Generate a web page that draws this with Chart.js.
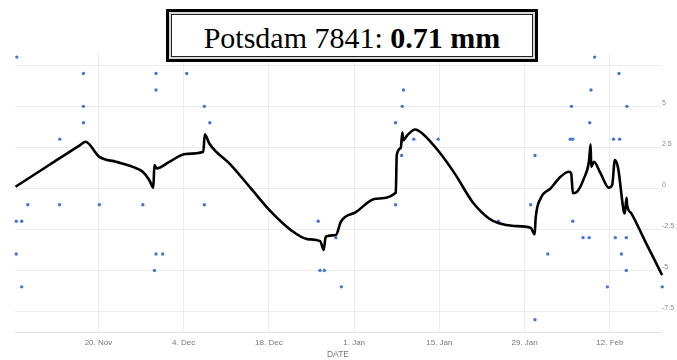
<!DOCTYPE html>
<html>
<head>
<meta charset="utf-8">
<script src="https://cdn.jsdelivr.net/npm/chart.js@4"></script>
<style>
  html, body { margin: 0; padding: 0; background: #fff; }
  #wrap { position: relative; width: 677px; height: 360px; }
  #title-box {
    position: absolute; left: 166px; top: 9px; width: 372px; height: 53px;
    box-sizing: border-box; border: 3px solid #000; padding: 2px; background: #d8d8d8;
  }
  #title-inner {
    box-sizing: border-box; width: 100%; height: 100%;
    border: 1.5px solid #222; background: #fff;
    font-family: "Liberation Serif", "Times New Roman", serif; font-size: 30px;
    line-height: 30px; text-align: center; padding-top: 8px; color: #000;
  }
</style>
</head>
<body>
<div id="wrap">
  <canvas id="chart" width="677" height="360"></canvas>
  <div id="title-box"><div id="title-inner">Potsdam 7841: <b>0.71 mm</b></div></div>
</div>
<script>
// Days counted from 20 Nov
const tickDays = [0, 14, 28, 42, 56, 70, 84];
const tickLabels = ['20. Nov', '4. Dec', '18. Dec', '1. Jan', '15. Jan', '29. Jan', '12. Feb'];
const yTicks = [-7.5, -5, -2.5, 0, 2.5, 5, 7.5];

// Smoothed black curve
const lineDays = [-13.62, -7.9, -3.0, -2.13, 0.16, 2.9, 5.63, 7.27, 8.37, 9.02, 9.19, 9.57, 11.65, 14.39, 17.23, 17.47, 18.21,
  21.77, 25.05, 28.33, 31.62, 34.34, 36.42, 37.0, 37.33, 39.0, 39.82, 42.28, 45.56, 48.84, 49.0, 49.66, 49.92, 50.06,
  50.73, 52.01, 53.2, 55.95, 58.69, 61.41, 64.15, 65.79, 68.25, 70.99, 71.65, 71.81, 72.63, 74.27, 75.91, 77.28, 77.65,
  77.93, 78.64, 79.74, 80.56, 80.84, 80.94, 81.38, 82.48, 83.84, 84.38, 84.82, 85.36, 86.29, 86.46, 86.74, 86.84, 87.5,
  89.7, 92.58];
const lineValues = [0.1, 1.47, 2.64, 2.84, 1.92, 1.62, 1.31, 1.01, 0.5, 0.04, 1.42, 1.22, 1.62, 2.1, 2.23, 3.3, 2.74,
  1.42, 0, -1.42, -2.54, -3.09, -3.21, -3.75, -2.94, -2.84, -2.03, -1.45, -0.63, -0.27, 2.03, 2.48, 3.41, 2.94,
  3.24, 3.59, 3.35, 2.23, 0.81, -0.81, -1.83, -2.13, -2.29, -2.4, -2.8, -1.83, -0.61, 0, 0.71, 1.01, 0.91,
  -0.3, -0.2, 0.61, 1.62, 2.68, 1.31, 1.62, 0.91, 0.04, 0.2, 1.72, 1.22, -1.42, -1.52, -0.57, -1.02, -1.51,
  -3.15, -5.28];

// Blue observation dots
const dotDays = [-13.4, -2.46, 9.46, 9.46, -2.46, -2.46, -6.35, -11.6, -6.4, 0.16, 7.3, -13.5, -12.6, -13.5, 9.46, 10.55,
  9.2, -12.6, 14.5, 17.4, 18.3, 17.4, 36.1, 36.4, 37.1, 39.0, 39.9, 50.1, 49.9, 48.8, 51.8, 55.8, 49.8, 48.8, 65.7,
  81.5, 85.5, 80.9, 77.7, 86.8, 80.7, 77.5, 77.9, 84.6, 85.6, 71.7, 71.0, 77.9, 79.6, 80.6, 84.9, 86.7, 73.8, 85.9,
  86.7, 83.6, 92.6, 71.7];
const dotValues = [8, 7, 7, 6, 5, 4, 3, -1, -1, -1, -1, -2, -2, -4, -4, -4,
  -5, -6, 7, 5, 4, -1, -2, -5, -5, -3, -6, 6, 5, 4, 3, 3, 2, -1, -2,
  8, 7, 6, 5, 5, 4, 3, 3, 3, 3, 2, -1, -2, -3, -3, -3, -3, -4, -4,
  -5, -6, -6, -8];

const lineData = lineDays.map((d, i) => ({ x: d, y: lineValues[i] }));
const dotData = dotDays.map((d, i) => ({ x: d, y: dotValues[i] }));

const ctx = document.getElementById('chart').getContext('2d');
new Chart(ctx, {
  type: 'scatter',
  data: {
    datasets: [{
      data: lineData,
      showLine: true,
      borderColor: '#000',
      borderWidth: 2.6,
      pointRadius: 0,
      cubicInterpolationMode: 'monotone',
      clip: false,
      order: 1
    }, {
      data: dotData,
      pointRadius: 1.7,
      pointBorderWidth: 0,
      backgroundColor: '#4675d8',
      clip: false,
      order: 2
    }]
  },
  options: {
    responsive: false,
    animation: false,
    layout: { padding: { left: 15, top: 53, right: 0, bottom: 0 } },
    plugins: { legend: { display: false }, tooltip: { enabled: false } },
    scales: {
      x: {
        type: 'linear',
        min: -13.7,
        max: 92.4,
        afterBuildTicks: s => { s.ticks = tickDays.map(v => ({ value: v })); },
        afterFit: s => { s.height = 28; },
        ticks: {
          callback: v => tickLabels[tickDays.indexOf(v)],
          color: '#777',
          font: { family: 'Liberation Sans', size: 8 },
          padding: 6,
          maxRotation: 0
        },
        grid: { color: '#ececec', drawTicks: false },
        border: { color: '#e2e2e2' },
        title: {
          display: true, text: 'DATE', color: '#777',
          font: { family: 'Liberation Sans', size: 8.5 }, padding: 0
        }
      },
      y: {
        position: 'right',
        min: -8.75,
        max: 8.25,
        afterBuildTicks: s => { s.ticks = yTicks.map(v => ({ value: v })); },
        afterFit: s => { s.width = 16; },
        ticks: {
          callback: v => v === 7.5 ? '' : String(v),
          color: '#888',
          font: { family: 'Liberation Sans', size: 7 },
          padding: 1,
          labelOffset: -3.5
        },
        grid: { color: '#ececec', drawTicks: false },
        border: { display: false }
      }
    }
  }
});
</script>
</body>
</html>
